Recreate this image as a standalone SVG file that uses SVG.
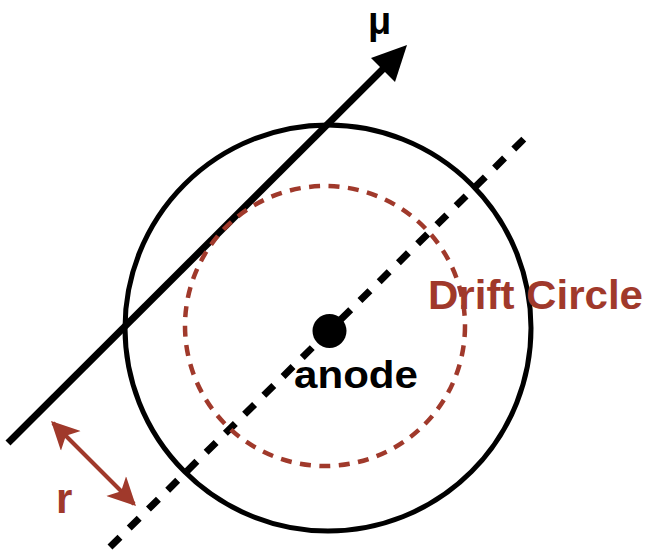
<svg xmlns="http://www.w3.org/2000/svg" width="648" height="554" viewBox="0 0 648 554">
<style>
.lbl{font-family:"Liberation Sans",Arial,sans-serif;font-weight:bold}
.red{fill:#A0392B}
</style>
<defs>
<marker id="rh" viewBox="0 0 10 10" refX="9" refY="5" markerWidth="7.5" markerHeight="7" orient="auto-start-reverse" markerUnits="strokeWidth">
<path d="M0,0 L10,5 L0,10 L2.5,5 Z" fill="#A0392B"/>
</marker>
</defs>
<rect width="648" height="554" fill="#fff"/>
<g id="tube">
<circle cx="328" cy="328" r="203" fill="none" stroke="#000" stroke-width="5"/>
</g>
<g id="connectors">
<line x1="110" y1="547" x2="532" y2="131" stroke="#000" stroke-width="7" stroke-dasharray="14 13"/>
<line x1="8" y1="443" x2="386" y2="66" stroke="#000" stroke-width="7"/>
<polygon points="407,45 371,58 395,82" fill="#000"/>
<line x1="53" y1="423" x2="134" y2="504" stroke="#A0392B" stroke-width="4" marker-start="url(#rh)" marker-end="url(#rh)"/>
</g>
<g id="drift-circle">
<circle cx="325" cy="326" r="140" fill="none" stroke="#A0392B" stroke-width="4.5" stroke-dasharray="11 8.5"/>
<text class="lbl red" x="428" y="309" font-size="40" textLength="215" lengthAdjust="spacingAndGlyphs">Drift Circle</text>
</g>
<g id="anode">
<circle cx="329.5" cy="331" r="17" fill="#000"/>
<text class="lbl" x="294" y="388" font-size="39" textLength="124" lengthAdjust="spacingAndGlyphs">anode</text>
</g>
<g id="muon-label">
<text class="lbl" x="368" y="34" font-size="38">μ</text>
</g>
<g id="r-label">
<text class="lbl red" x="56" y="513" font-size="42">r</text>
</g>
</svg>
